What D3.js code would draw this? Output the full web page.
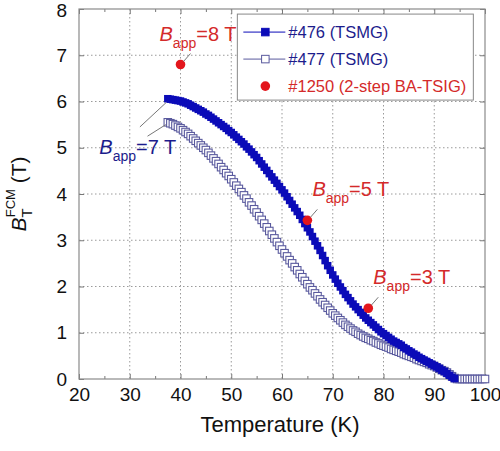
<!DOCTYPE html>
<html>
<head>
<meta charset="utf-8">
<script src="https://cdn.jsdelivr.net/npm/d3@7"></script>
<style>
  body { margin: 0; background: #fff; }
  svg { font-family: "Liberation Sans", Arial, sans-serif; }
</style>
</head>
<body>
<svg id="chart" width="500" height="451"></svg>
<script>
// temperatures (K) for sample #476, 0.5 K steps
const temps476 = [37.5,38,38.5,39,39.5,40,40.5,41,41.5,42,42.5,43,43.5,44,44.5,45,45.5,46,46.5,47,47.5,48,48.5,49,49.5,50,
  50.5,51,51.5,52,52.5,53,53.5,54,54.5,55,55.5,56,56.5,57,57.5,58,58.5,59,59.5,60,60.5,61,61.5,62,62.5,63,63.5,64,64.5,65,
  65.5,66,66.5,67,67.5,68,68.5,69,69.5,70,70.5,71,71.5,72,72.5,73,73.5,74,74.5,75,75.5,76,76.5,77,77.5,78,78.5,79,79.5,80,
  80.5,81,81.5,82,82.5,83,83.5,84,84.5,85,85.5,86,86.5,87,87.5,88,88.5,89,89.5,90,90.5,91,91.5,92,92.5,93,93.5,94];
const field476 = [6.06,6.05,6.04,6.03,6.02,6.01,5.99,5.97,5.95,5.92,5.89,5.86,5.83,5.80,5.77,5.73,5.70,5.66,5.62,5.58,5.54,5.50,5.46,5.42,5.37,5.33,
  5.28,5.23,5.18,5.13,5.08,5.02,4.97,4.91,4.85,4.79,4.72,4.65,4.58,4.51,4.44,4.37,4.30,4.23,4.16,4.09,4.02,3.94,3.86,3.78,3.70,3.62,3.54,3.45,3.36,3.27,
  3.18,3.08,2.98,2.88,2.78,2.67,2.56,2.45,2.35,2.25,2.16,2.07,1.99,1.91,1.83,1.76,1.69,1.62,1.56,1.50,1.44,1.38,1.32,1.27,1.22,1.17,1.12,1.07,1.02,0.98,
  0.94,0.90,0.86,0.82,0.79,0.76,0.73,0.68,0.65,0.61,0.58,0.54,0.51,0.47,0.44,0.41,0.38,0.35,0.32,0.29,0.26,0.23,0.19,0.16,0.12,0.08,0.04,0.01];

// temperatures (K) for sample #477
const temps477 = [37.5,38,38.5,39,39.5,40,40.5,41,41.5,42,42.5,43,43.5,44,44.5,45,45.5,46,46.5,47,47.5,48,48.5,49,49.5,50,
  50.5,51,51.5,52,52.5,53,53.5,54,54.5,55,55.5,56,56.5,57,57.5,58,58.5,59,59.5,60,60.5,61,61.5,62,62.5,63,63.5,64,64.5,65,
  65.5,66,66.5,67,67.5,68,68.5,69,69.5,70,70.5,71,71.5,72,72.5,73,73.5,74,74.5,75,75.5,76,76.5,77,77.5,78,78.5,79,79.5,80,
  80.5,81,81.5,82,82.5,83,83.5,84,84.5,85,85.5,86,86.5,87,87.5,88,88.5,89,89.5,90,90.5,91,91.5,92,92.5,93,93.5,94,
  94.5,95,95.5,96,96.5,97,97.5,98,98.5,99,99.5,100];
const field477 = [5.55,5.53,5.51,5.48,5.45,5.42,5.38,5.34,5.30,5.25,5.20,5.15,5.10,5.05,5.00,4.95,4.89,4.83,4.77,4.71,4.65,4.58,4.52,4.45,4.39,4.32,
  4.25,4.18,4.11,4.04,3.97,3.90,3.82,3.75,3.67,3.60,3.52,3.44,3.36,3.28,3.20,3.12,3.04,2.96,2.88,2.80,2.72,2.65,2.57,2.50,2.42,2.35,2.27,2.20,2.12,2.05,
  1.98,1.92,1.85,1.79,1.72,1.66,1.60,1.54,1.48,1.42,1.37,1.32,1.27,1.22,1.17,1.13,1.09,1.05,1.02,0.98,0.95,0.92,0.89,0.87,0.84,0.82,0.79,0.77,0.74,0.72,
  0.70,0.68,0.65,0.63,0.61,0.59,0.57,0.54,0.52,0.50,0.48,0.46,0.43,0.41,0.39,0.37,0.35,0.32,0.30,0.28,0.25,0.22,0.19,0.17,0.14,0.10,0.06,0.02,
  0,0,0,0,0,0,0,0,0,0,0,0];

// sample #1250 single points
const temps1250 = [40, 65, 77];
const field1250 = [6.8, 3.43, 1.53];
const fieldLabels1250 = ["8", "5", "3"];

const xTicks = [20, 30, 40, 50, 60, 70, 80, 90, 100];
const yTicks = [0, 1, 2, 3, 4, 5, 6, 7, 8];
const legendNames = ["#476 (TSMG)", "#477 (TSMG)", "#1250 (2-step BA-TSIG)"];

const blue = "#0b0bb8", openCol = "#5a5a9e", red = "#e3161c", navy = "#1c1c8c", redText = "#d42a2a";

const svg = d3.select("#chart");
const margin = { top: 9, right: 15, bottom: 72, left: 79 };
const width = 500 - margin.left - margin.right;
const height = 451 - margin.top - margin.bottom;

const x = d3.scaleLinear().domain([20, 100]).range([0, width]);
const y = d3.scaleLinear().domain([0, 8]).range([height, 0]);

const g = svg.append("g").attr("transform", `translate(${margin.left},${margin.top})`);

// dotted grid
g.append("g").selectAll("line").data(xTicks.slice(1, -1)).join("line")
  .attr("x1", d => x(d)).attr("x2", d => x(d)).attr("y1", 0).attr("y2", height)
  .attr("stroke", "#9a9a9a").attr("stroke-dasharray", "1.5,2.5");
g.append("g").selectAll("line").data(yTicks.slice(1, -1)).join("line")
  .attr("y1", d => y(d)).attr("y2", d => y(d)).attr("x1", 0).attr("x2", width)
  .attr("stroke", "#9a9a9a").attr("stroke-dasharray", "1.5,2.5");

// axes, ticks pointing inward
const minorX = [25, 35, 45, 55, 65, 75, 85, 95];
function tickStyle(sel) {
  sel.select(".domain").remove();
  sel.selectAll(".tick line").attr("stroke", "#777");
}
g.append("g").attr("transform", `translate(0,${height})`)
  .call(d3.axisBottom(x).tickValues(xTicks).tickSizeInner(-5).tickSizeOuter(0).tickPadding(9))
  .call(tickStyle)
  .call(s => s.selectAll("text").attr("font-size", 19).attr("fill", "#111").attr("font-family", "Liberation Sans, Arial"));
g.append("g").attr("transform", `translate(0,${height})`)
  .call(d3.axisBottom(x).tickValues(minorX).tickSizeInner(-3).tickSizeOuter(0).tickFormat(""))
  .call(tickStyle);
g.append("g")
  .call(d3.axisTop(x).tickValues(xTicks).tickSizeInner(-5).tickSizeOuter(0).tickFormat(""))
  .call(tickStyle);
g.append("g")
  .call(d3.axisTop(x).tickValues(minorX).tickSizeInner(-3).tickSizeOuter(0).tickFormat(""))
  .call(tickStyle);
g.append("g")
  .call(d3.axisLeft(y).tickValues(yTicks).tickSizeInner(-5).tickSizeOuter(0).tickPadding(12))
  .call(tickStyle)
  .call(s => s.selectAll("text").attr("font-size", 19).attr("fill", "#111").attr("font-family", "Liberation Sans, Arial"))
  .call(s => s.selectAll(".tick").filter(d => d === 8).select("text").attr("dy", "0.42em"));
g.append("g").attr("transform", `translate(${width},0)`)
  .call(d3.axisRight(y).tickValues(yTicks).tickSizeInner(-5).tickSizeOuter(0).tickFormat(""))
  .call(tickStyle);

g.append("rect").attr("width", width).attr("height", height)
  .attr("fill", "none").attr("stroke", "#8a8a8a").attr("stroke-width", 1.2);

// series
const data477 = temps477.map((t, i) => ({ t, b: field477[i] }));
const data476 = temps476.map((t, i) => ({ t, b: field476[i] }));
const line = d3.line().x(d => x(d.t)).y(d => y(d.b));
const sq = 7.5;

g.append("path").datum(data477).attr("d", line).attr("fill", "none").attr("stroke", openCol).attr("stroke-width", 1);
g.append("g").selectAll("rect").data(data477).join("rect")
  .attr("x", d => x(d.t) - sq / 2).attr("y", d => y(d.b) - sq / 2)
  .attr("width", sq).attr("height", sq)
  .attr("fill", "#fff").attr("stroke", openCol).attr("stroke-width", 1.1);

g.append("path").datum(data476).attr("d", line).attr("fill", "none").attr("stroke", blue).attr("stroke-width", 1);
g.append("g").selectAll("rect").data(data476).join("rect")
  .attr("x", d => x(d.t) - sq / 2).attr("y", d => y(d.b) - sq / 2)
  .attr("width", sq).attr("height", sq).attr("fill", blue);

g.append("g").selectAll("circle").data(temps1250).join("circle")
  .attr("cx", d => x(d)).attr("cy", (d, i) => y(field1250[i])).attr("r", 4.8).attr("fill", red);

// annotations
function bapp(px, py, val, color) {
  const t = g.append("text").attr("x", px).attr("y", py).attr("fill", color).attr("font-size", 20);
  t.append("tspan").text("B").attr("font-style", "italic");
  t.append("tspan").text("app").attr("font-size", 14).attr("dy", 7);
  t.append("tspan").text("=" + val + " T").attr("dy", -7);
}
function leader(x1, y1, x2, y2) {
  g.append("line").attr("x1", x1).attr("y1", y1).attr("x2", x2).attr("y2", y2)
    .attr("stroke", "#777").attr("stroke-width", 1);
}
// #1250 labels
const lab = [[-21, -24], [5, -24], [5, -24]];
temps1250.forEach((t, i) => {
  const cx = x(t), cy = y(field1250[i]);
  bapp(cx + lab[i][0], cy + lab[i][1], fieldLabels1250[i], redText);
  leader(cx + 3, cy - 3, cx + 10, cy - 11);
});
// 7 T label for TSMG samples
bapp(x(24.0), y(4.86), "7", navy);
leader(x(32), y(5.45), x(37.2), y(5.98));
leader(x(33.5), y(5.25), x(37.1), y(5.5));

// legend
const leg = g.append("g").attr("transform", `translate(${x(51.2)},${y(7.89)})`);
leg.append("rect").attr("width", 236).attr("height", 86)
  .attr("fill", "#fff").attr("stroke", "#888").attr("stroke-width", 1);
legendNames.forEach((name, i) => {
  const ly = 18 + i * 27;
  if (i < 2) {
    leg.append("line").attr("x1", 6).attr("x2", 48).attr("y1", ly).attr("y2", ly)
      .attr("stroke", i === 0 ? blue : openCol).attr("stroke-width", 1);
    leg.append("rect").attr("x", 28 - sq / 2).attr("y", ly - sq / 2).attr("width", sq).attr("height", sq)
      .attr("fill", i === 0 ? blue : "#fff").attr("stroke", i === 0 ? blue : openCol);
  } else {
    leg.append("circle").attr("cx", 28).attr("cy", ly).attr("r", 4.8).attr("fill", red);
  }
  leg.append("text").attr("x", 51).attr("y", ly + 6).attr("font-size", 16.5)
    .attr("fill", i < 2 ? navy : redText).text(name);
});

// axis titles
svg.append("text").attr("x", margin.left + width / 2 - 2).attr("y", 432)
  .attr("text-anchor", "middle").attr("font-size", 22).attr("fill", "#111").text("Temperature (K)");

const yt = svg.append("text").attr("transform", "translate(26,194) rotate(-90)")
  .attr("text-anchor", "middle").attr("font-size", 21).attr("fill", "#111");
yt.append("tspan").text("B").attr("font-style", "italic");
yt.append("tspan").text("T").attr("font-size", 15).attr("dy", 6);
yt.append("tspan").text("FCM").attr("font-size", 13).attr("dx", -9).attr("dy", -17);
yt.append("tspan").text(" (T)").attr("dy", 11);
</script>
</body>
</html>
